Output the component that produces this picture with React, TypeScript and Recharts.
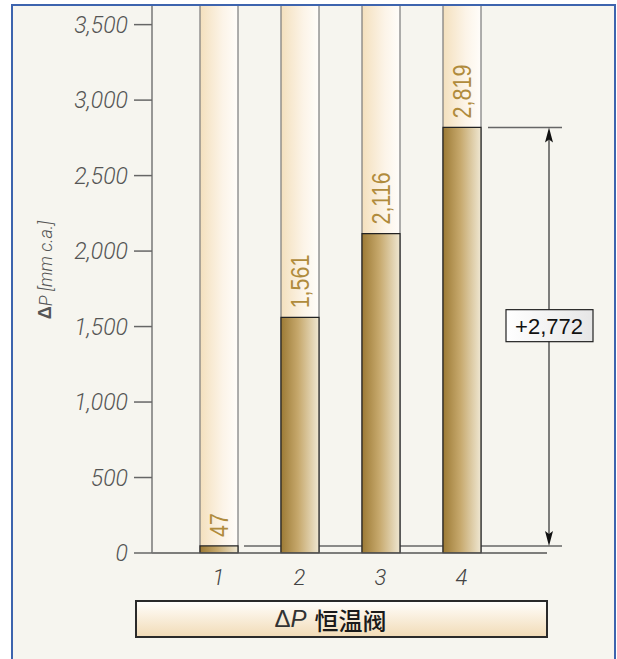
import { BarChart, Bar, XAxis, YAxis, LabelList, ReferenceArea } from 'recharts';

const valves = ['1', '2', '3', '4'];
const pressureDrop = [47, 1561, 2116, 2819];
const yTicks = [0, 500, 1000, 1500, 2000, 2500, 3000, 3500];

const data = valves.map((name, i) => ({ name, dp: pressureDrop[i] }));
const lowest = Math.min(...pressureDrop);
const highest = Math.max(...pressureDrop);
const fmt = (v: number) => v.toLocaleString('en-US');

const AXIS_FONT = '"Liberation Sans", Arial, sans-serif';
const LIGHT_FONT = 'Roboto, "Liberation Sans", sans-serif';

// full-height pale column behind each bar
const Column = (p: any) => (
  <rect
    x={p.x}
    y={p.y}
    width={p.width}
    height={p.height}
    fill="url(#colGrad)"
    stroke="#7a7a7a"
    strokeWidth={1.2}
  />
);

// rotated value, squeezed a little along the reading direction
const ValueTag = (p: any) => {
  const cx = p.x + p.width / 2;
  const y0 = p.y - 9;
  return (
    <text
      x={0}
      y={0}
      transform={`translate(${cx} ${y0}) rotate(-90) scale(0.86 1)`}
      textAnchor="start"
      dominantBaseline="central"
      fill="#b08b3c"
      fontSize={25}
      fontFamily={AXIS_FONT}
    >
      {fmt(p.value)}
    </text>
  );
};

// dimension arrow between lowest and highest bar
// (rect spans the category band range, padding excluded)
const Span = (p: any) => {
  const { x, y, width, height } = p;
  const right = x + width;
  const ax = right + 47;
  const top = y;
  const bottom = y + height;
  const mid = (top + bottom) / 2 - 11;
  const label = `+${fmt(highest - lowest)}`;
  return (
    <g>
      <line x1={right - 14} y1={top} x2={right + 60} y2={top} stroke="#666" strokeWidth={1.5} />
      <line x1={x + 66} y1={bottom} x2={right + 60} y2={bottom} stroke="#666" strokeWidth={1.5} />
      <line x1={ax} y1={top + 6} x2={ax} y2={bottom - 6} stroke="#555" strokeWidth={1.5} />
      <path d={`M${ax},${top} L${ax + 4},${top + 15} L${ax},${top + 12} L${ax - 4},${top + 15} Z`} fill="#111" />
      <path d={`M${ax},${bottom} L${ax + 4},${bottom - 15} L${ax},${bottom - 12} L${ax - 4},${bottom - 15} Z`} fill="#111" />
      <rect x={ax - 43} y={mid - 16} width={87} height={32} fill="url(#tagGrad)" stroke="#222" strokeWidth={1.2} />
      <text
        x={ax}
        y={mid + 1}
        textAnchor="middle"
        dominantBaseline="central"
        fontSize={22}
        fontFamily={AXIS_FONT}
        fill="#111"
      >
        {label}
      </text>
    </g>
  );
};

const YTitle = (p: any) => {
  const vb = p.viewBox || { x: 0, y: 5, width: 152, height: 548 };
  const tx = vb.x + 45;
  const ty = vb.y + vb.height / 2 - 9;
  return (
    <text
      x={tx}
      y={ty}
      transform={`rotate(-90 ${tx} ${ty})`}
      textAnchor="middle"
      dominantBaseline="central"
      fontSize={18}
      fontFamily={LIGHT_FONT}
      fontWeight={300}
      fill="#555"
    >
      <tspan fontWeight="bold" fontFamily={AXIS_FONT}>Δ</tspan>
      <tspan fontStyle="italic">P [mm c.a.]</tspan>
    </text>
  );
};

export default function App() {
  return (
    <div style={{ position: 'absolute', left: 0, top: 0, width: 617, height: 659, overflow: 'hidden', background: '#fff' }}>
      <div style={{ position: 'absolute', left: 12, top: 5, width: 603, height: 700, background: '#f6f5ef' }} />
      <div style={{ position: 'absolute', left: 0, top: 0 }}>
        <BarChart
          width={617}
          height={659}
          data={data}
          margin={{ top: 5, right: 70, bottom: 76, left: 0 }}
        >
          <defs>
            <linearGradient id="barGrad" x1="0" y1="0" x2="1" y2="0">
              <stop offset="0%" stopColor="#9c7a35" />
              <stop offset="45%" stopColor="#c6a86c" />
              <stop offset="100%" stopColor="#efe7d2" />
            </linearGradient>
            <linearGradient id="colGrad" x1="0" y1="0" x2="1" y2="0">
              <stop offset="0%" stopColor="#f4e0bd" />
              <stop offset="60%" stopColor="#fcf4e8" />
              <stop offset="100%" stopColor="#fffdfa" />
            </linearGradient>
            <linearGradient id="tagGrad" x1="0" y1="0" x2="1" y2="0">
              <stop offset="0%" stopColor="#ffffff" />
              <stop offset="100%" stopColor="#e6e6e6" />
            </linearGradient>
          </defs>
          <XAxis
            dataKey="name"
            height={30}
            padding={{ left: 26, right: 45 }}
            axisLine={{ stroke: '#555', strokeWidth: 1.5 }}
            tickLine={false}
            tickMargin={10}
            tick={{ fontSize: 22, fontStyle: 'italic', fontWeight: 300, fill: '#444', fontFamily: LIGHT_FONT }}
          />
          <YAxis
            width={152}
            domain={[0, 3630]}
            ticks={yTicks}
            tickFormatter={fmt}
            allowDataOverflow
            axisLine={{ stroke: '#777', strokeWidth: 1.5 }}
            tickLine={{ stroke: '#666', strokeWidth: 1.5 }}
            tickSize={18}
            tickMargin={6}
            tick={{ fontSize: 23, fontStyle: 'italic', fontWeight: 300, fill: '#555', fontFamily: LIGHT_FONT }}
            label={{ content: YTitle }}
          />
          <Bar
            dataKey="dp"
            barSize={38}
            fill="url(#barGrad)"
            stroke="#222"
            strokeWidth={1.2}
            background={Column}
            isAnimationActive={false}
          >
            <LabelList dataKey="dp" content={ValueTag} />
          </Bar>
          <ReferenceArea y1={lowest} y2={highest} shape={Span} ifOverflow="visible" />
        </BarChart>
      </div>
      <div
        style={{
          position: 'absolute',
          left: 135,
          top: 600,
          width: 413,
          height: 38,
          boxSizing: 'border-box',
          border: '2px solid #2a2a2a',
          background: 'linear-gradient(to bottom, #fffefb, #f2dcb8)',
          display: 'flex',
          alignItems: 'center',
          justifyContent: 'center',
          paddingRight: 22,
          fontSize: 24,
          color: '#1a1a1a',
        }}
      >
        <span style={{ fontFamily: AXIS_FONT, color: '#333' }}>
          Δ<i>P</i>
        </span>
        <span style={{ fontFamily: '"Noto Sans CJK SC", sans-serif', fontWeight: 500, marginLeft: 8 }}>恒温阀</span>
      </div>
      <div
        style={{
          position: 'absolute',
          left: 11,
          top: 4,
          width: 605,
          height: 720,
          boxSizing: 'border-box',
          border: '2px solid #3d64ae',
          pointerEvents: 'none',
        }}
      />
    </div>
  );
}
